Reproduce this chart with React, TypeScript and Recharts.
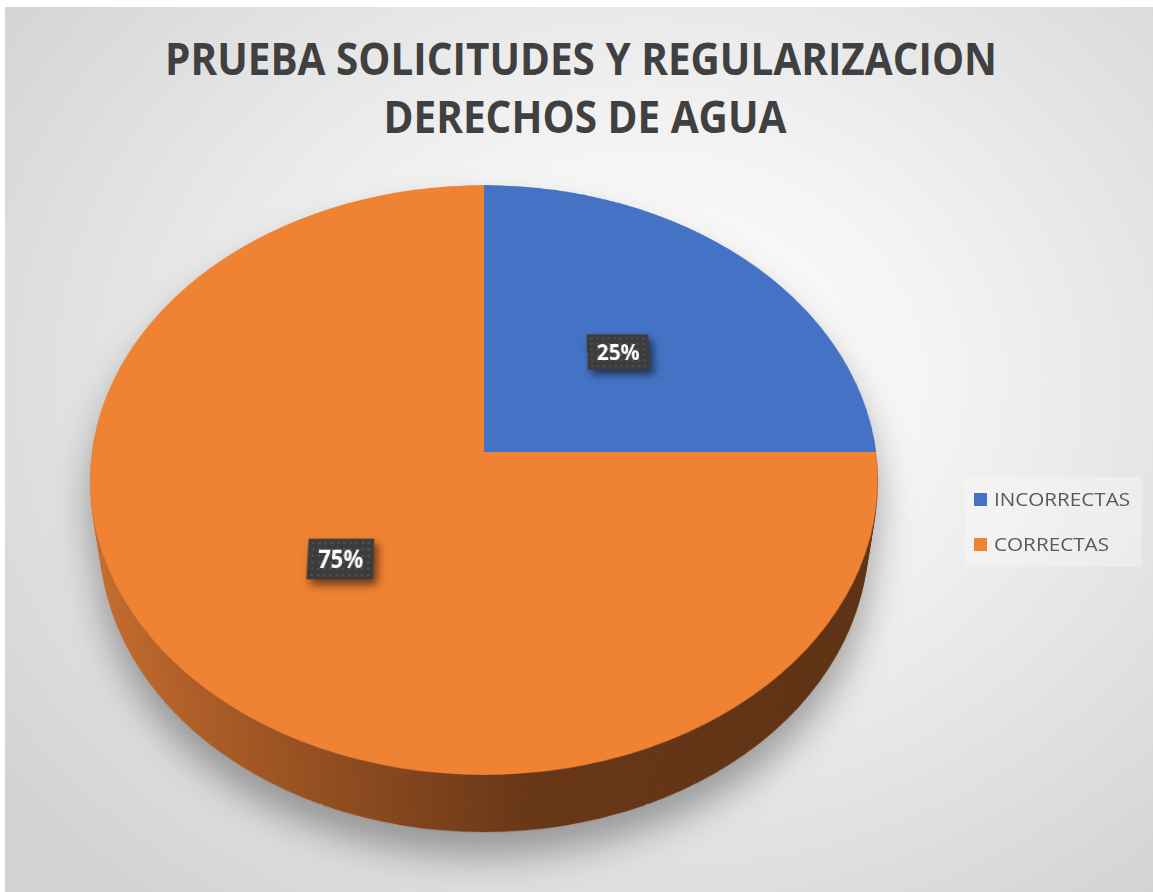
import { PieChart, Pie, Cell } from 'recharts';

const categories = ['INCORRECTAS', 'CORRECTAS'];
const values = [25, 75];
const colors = ['#4472C4', '#F08233'];
const titleLines = ['PRUEBA SOLICITUDES Y REGULARIZACION', 'DERECHOS DE AGUA'];

const data = categories.map((name, i) => ({ name, value: values[i] }));

// 3D look: the flat pie is tilted back with a CSS perspective, and the
// side wall is a stack of darker copies pushed down along the normal.
const R = 392;
const PAD = 10;
const SIZE = 2 * R + 2 * PAD;
const TILT = 41.8;
const PERSP = 2750;
const DEPTH = 92;
const STEP = 2;
const CX = 484;
const CY = 452;
const RAD = Math.PI / 180;
const COS = Math.cos(TILT * RAD);
const FONT = "'Open Sans', 'Liberation Sans', sans-serif";

const depths: number[] = [];
for (let z = DEPTH; z > 0; z -= STEP) depths.push(z);

function renderLabel(props: any) {
  const { cx, cy, midAngle, outerRadius, percent, index } = props;
  const r = outerRadius * 0.5;
  const x = cx + r * Math.cos(-midAngle * RAD);
  const y = cy + r * Math.sin(-midAngle * RAD);
  const id = `dots-${index}`;
  return (
    <g transform={`translate(${x},${y}) scale(1,${1 / COS})`}>
      <defs>
        <pattern id={id} width="6" height="6" patternUnits="userSpaceOnUse">
          <rect width="6" height="6" fill="#3c3c3c" />
          <rect x="2" y="2" width="2" height="2" fill="#545454" />
        </pattern>
      </defs>
      <rect
        x={-32}
        y={-19}
        width={64}
        height={38}
        fill={`url(#${id})`}
        style={{ filter: 'drop-shadow(4px 5px 4px rgba(0,0,0,0.55))' }}
      />
      <text x={0} y={8.5} textAnchor="middle" fill="#ffffff" fontSize={24} fontWeight={700} fontFamily={FONT}
        textLength={44} lengthAdjust="spacingAndGlyphs">
        {`${Math.round(percent * 100)}%`}
      </text>
    </g>
  );
}

function Layer({ z, top }: { z: number; top: boolean }) {
  const gid = `side-${z}`;
  return (
    <div
      style={{
        position: 'absolute',
        left: 0,
        top: 0,
        width: SIZE,
        height: SIZE,
        transformOrigin: '50% 50%',
        transform: `perspective(${PERSP}px) rotateX(${TILT}deg) translateZ(${-z}px)`,
      }}
    >
      <PieChart width={SIZE} height={SIZE} margin={{ top: 0, right: 0, bottom: 0, left: 0 }}>
        {!top && (
          <defs>
            <linearGradient id={gid} gradientUnits="userSpaceOnUse" x1={PAD} y1={0} x2={SIZE - PAD} y2={0}>
              <stop offset="0" stopColor="#c86d2f" />
              <stop offset="0.3" stopColor="#954f20" />
              <stop offset="0.55" stopColor="#683717" />
              <stop offset="1" stopColor="#5d3114" />
            </linearGradient>
          </defs>
        )}
        <Pie
          data={data}
          dataKey="value"
          nameKey="name"
          cx="50%"
          cy="50%"
          outerRadius={R}
          startAngle={90}
          endAngle={-270}
          stroke="none"
          isAnimationActive={false}
          label={top ? renderLabel : false}
          labelLine={false}
        >
          {data.map((d, i) => (
            <Cell key={d.name} fill={top ? colors[i] : `url(#${gid})`} />
          ))}
        </Pie>
      </PieChart>
    </div>
  );
}

export default function App() {
  return (
    <div style={{ position: 'absolute', left: 0, top: 0, width: 1153, height: 892, background: '#ffffff', overflow: 'hidden' }}>
      <div
        style={{
          position: 'absolute',
          left: 5,
          top: 7,
          width: 1148,
          height: 885,
          background: 'radial-gradient(ellipse 70% 75% at 56% 42%, #ffffff 0%, #f4f4f4 35%, #e2e2e2 70%, #d3d3d3 100%)',
        }}
      />
      <svg width={1153} height={160} style={{ position: 'absolute', left: 0, top: 0 }}>
        <text x={581} y={75} textAnchor="middle" fontSize={45} fontWeight={700} fontFamily={FONT} fill="#404040"
          textLength={832} lengthAdjust="spacingAndGlyphs">{titleLines[0]}</text>
        <text x={585} y={133} textAnchor="middle" fontSize={45} fontWeight={700} fontFamily={FONT} fill="#404040"
          textLength={403} lengthAdjust="spacingAndGlyphs">{titleLines[1]}</text>
      </svg>
      <div
        style={{
          position: 'absolute',
          left: CX - SIZE / 2,
          top: CY - SIZE / 2,
          width: SIZE,
          height: SIZE,
          filter: 'drop-shadow(0px 24px 18px rgba(0,0,0,0.33))',
        }}
      >
        {depths.map((z) => (
          <Layer key={z} z={z} top={false} />
        ))}
        <Layer z={0} top={true} />
      </div>
      <svg width={200} height={120} style={{ position: 'absolute', left: 955, top: 465 }}>
        <rect x={10} y={12} width={177} height={90} fill="rgba(255,255,255,0.3)" />
        {categories.map((c, i) => (
          <g key={c}>
            <rect x={19} y={28 + i * 45} width={13} height={13} fill={colors[i]} />
            <text x={39} y={41 + i * 45} fontSize={19} fontFamily={FONT} fill="#595959"
              textLength={i === 0 ? 136 : 115} lengthAdjust="spacingAndGlyphs">{c}</text>
          </g>
        ))}
      </svg>
    </div>
  );
}
